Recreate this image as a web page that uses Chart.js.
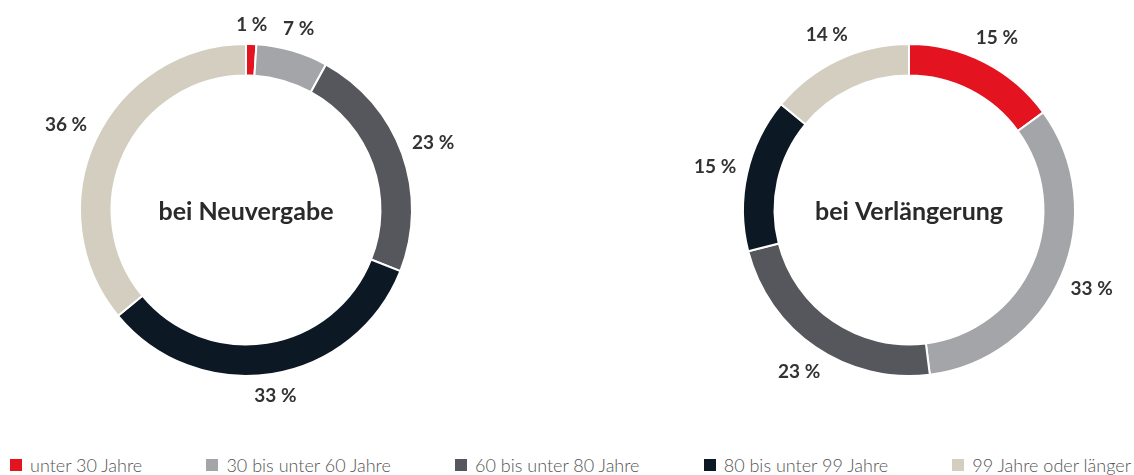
<!DOCTYPE html>
<html>
<head>
<meta charset="utf-8">
<script src="https://cdn.jsdelivr.net/npm/chart.js@4.4.0/dist/chart.umd.min.js"></script>
<style>
  html, body { margin: 0; padding: 0; background: #fff; }
  body { width: 1134px; height: 475px; position: relative; overflow: hidden; font-family: Lato, "Open Sans", sans-serif; }
  #c1 { position: absolute; left: 0; top: 0; }
  #c2 { position: absolute; left: 682px; top: 0; }
  #legend { position: absolute; left: 10px; right: 3px; top: 453px; display: flex; justify-content: space-between; }
  .item { display: flex; align-items: center; font-size: 18px; font-weight: 300; color: #555; white-space: nowrap; line-height: 24px; }
  .sw { width: 12px; height: 12px; margin-right: 8px; display: inline-block; }
</style>
</head>
<body>
<canvas id="c1" width="492" height="420"></canvas>
<canvas id="c2" width="454" height="420"></canvas>
<div id="legend"></div>
<script>
// ---- data ----
const categories = ["unter 30 Jahre", "30 bis unter 60 Jahre", "60 bis unter 80 Jahre", "80 bis unter 99 Jahre", "99 Jahre oder länger"];
const neuvergabeValues = [1, 7, 23, 33, 36];
const verlaengerungValues = [15, 33, 23, 15, 14];
const chartTitles = ["bei Neuvergabe", "bei Verlängerung"];
const colors = ["#e3141f", "#a4a5a8", "#55575c", "#0c1924", "#d3cebf"];

// ---- plugins ----
const centerText = {
  id: 'centerText',
  afterDraw(chart, args, opts) {
    const meta = chart.getDatasetMeta(0);
    const arc = meta.data[0];
    if (!arc) return;
    const ctx = chart.ctx;
    ctx.save();
    ctx.font = 'bold 25px Lato, sans-serif';
    ctx.fillStyle = '#2a2a2a';
    ctx.textAlign = 'center';
    ctx.textBaseline = 'middle';
    ctx.fillText(opts.text, arc.x, arc.y + 2);
    ctx.restore();
  }
};
const outerLabels = {
  id: 'outerLabels',
  afterDraw(chart) {
    const ctx = chart.ctx;
    const meta = chart.getDatasetMeta(0);
    const values = chart.data.datasets[0].data;
    ctx.save();
    ctx.font = 'bold 19px Lato, sans-serif';
    ctx.fillStyle = '#333';
    ctx.textAlign = 'center';
    ctx.textBaseline = 'middle';
    meta.data.forEach((arc, i) => {
      const p = arc.getProps(['x', 'y', 'startAngle', 'endAngle', 'outerRadius'], true);
      const mid = (p.startAngle + p.endAngle) / 2;
      const txt = values[i] + ' %';
      const hw = ctx.measureText(txt).width / 2;
      const hh = 9;
      const c = Math.cos(mid), s = Math.sin(mid);
      const r = p.outerRadius + 10 + Math.abs(c) * hw + Math.abs(s) * hh;
      ctx.fillText(txt, p.x + c * r, p.y + s * r);
    });
    ctx.restore();
  }
};

function makeChart(id, values, title) {
  return new Chart(document.getElementById(id), {
    type: 'doughnut',
    data: {
      labels: categories,
      datasets: [{
        data: values,
        backgroundColor: colors,
        borderColor: '#ffffff',
        borderWidth: 2,
        hoverOffset: 0
      }]
    },
    options: {
      responsive: false,
      animation: false,
      cutout: '81%',
      rotation: 0,
      layout: { padding: 43 },
      plugins: {
        legend: { display: false },
        tooltip: { enabled: false },
        centerText: { text: title }
      }
    },
    plugins: [centerText, outerLabels]
  });
}
makeChart('c1', neuvergabeValues, chartTitles[0]);
makeChart('c2', verlaengerungValues, chartTitles[1]);

// ---- legend ----
const leg = document.getElementById('legend');
categories.forEach((c, i) => {
  const d = document.createElement('div');
  d.className = 'item';
  const sw = document.createElement('span');
  sw.className = 'sw';
  sw.style.background = colors[i];
  d.appendChild(sw);
  d.appendChild(document.createTextNode(c));
  leg.appendChild(d);
});
</script>
</body>
</html>
